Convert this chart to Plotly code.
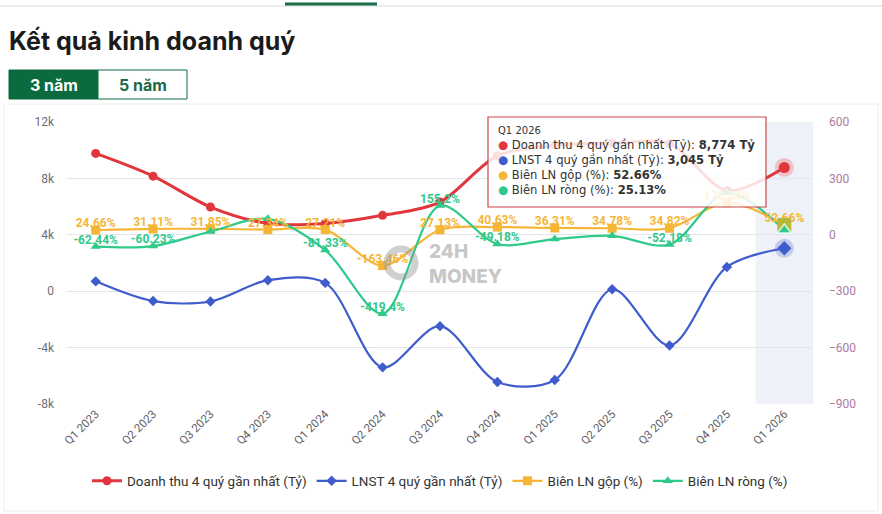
import plotly.graph_objects as go

# ---------------- data ----------------
categories = ["Q1 2023", "Q2 2023", "Q3 2023", "Q4 2023", "Q1 2024", "Q2 2024", "Q3 2024",
              "Q4 2024", "Q1 2025", "Q2 2025", "Q3 2025", "Q4 2025", "Q1 2026"]
revenue = [9770, 8160, 5970, 4810, 4810, 5380, 6320, 9600, 10350, 10500, 10450, 7150, 8774]
lnst = [700, -700, -730, 780, 590, -5400, -2480, -6440, -6300, 140, -3850, 1720, 3045]
gross_margin = [24.66, 31.11, 31.85, 27.34, 27.21, -163.46, 27.13, 40.63, 36.31, 34.78, 34.82, 170.84, 52.66]
net_margin = [-62.44, -60.23, 17.5, 85.0, -81.33, -419.4, 155.2, -49.18, -23.0, -5.3, -52.18, 225.0, 25.13]
net_label_shown = [True, True, False, False, True, True, True, True, False, False, True, False, False]
left_ticks = [-8000, -4000, 0, 4000, 8000, 12000]
left_tick_text = ["-8k", "-4k", "0", "4k", "8k", "12k"]
right_ticks = [-900, -600, -300, 0, 300, 600]
series_names = ["Doanh thu 4 quý gần nhất (Tỷ)", "LNST 4 quý gần nhất (Tỷ)",
                "Biên LN gộp (%)", "Biên LN ròng (%)"]

RED, BLUE, ORANGE, GREEN = "#e2363d", "#3e5ccb", "#f5b637", "#2fc98a"

W, H = 882, 514
L, R, T, B = 67, 813, 122, 404


def px2x(px):
    return (px - L) / (R - L)


def py2y(py):
    return (B - py) / (B - T)


fig = go.Figure()

fig.add_trace(go.Scatter(x=categories, y=revenue, name=series_names[0], mode="lines+markers",
                         line=dict(color=RED, width=3, shape="spline", smoothing=0.9),
                         marker=dict(symbol="circle", size=9, color=RED), yaxis="y"))
fig.add_trace(go.Scatter(x=categories, y=lnst, name=series_names[1], mode="lines+markers",
                         line=dict(color=BLUE, width=2.2, shape="spline", smoothing=0.9),
                         marker=dict(symbol="diamond", size=8, color=BLUE), yaxis="y"))
fig.add_trace(go.Scatter(x=categories, y=gross_margin, name=series_names[2], mode="lines+markers",
                         line=dict(color=ORANGE, width=2.2, shape="spline", smoothing=0.9),
                         marker=dict(symbol="square", size=9, color=ORANGE), yaxis="y2"))
fig.add_trace(go.Scatter(x=categories, y=net_margin, name=series_names[3], mode="lines+markers",
                         line=dict(color=GREEN, width=2.2, shape="spline", smoothing=0.9),
                         marker=dict(symbol="triangle-up", size=9, color=GREEN), yaxis="y2"))

# data labels
fig.add_trace(go.Scatter(x=categories, y=gross_margin, mode="text", showlegend=False, yaxis="y2",
                         text=[f"{v:g}%" for v in gross_margin], textposition="top center",
                         textfont=dict(color=ORANGE, size=12, family="Roboto", weight=700),
                         hoverinfo="skip"))
fig.add_trace(go.Scatter(x=categories, y=net_margin, mode="text", showlegend=False, yaxis="y2",
                         text=[f"{v:g}%" if s else "" for v, s in zip(net_margin, net_label_shown)],
                         textposition="top center",
                         textfont=dict(color=GREEN, size=12, family="Roboto", weight=700),
                         hoverinfo="skip"))

# highlighted last point
last = categories[-1]
fig.add_trace(go.Scatter(x=[last], y=[revenue[-1]], mode="markers", showlegend=False, yaxis="y",
                         marker=dict(size=19, color="rgba(226,54,61,0.25)"), hoverinfo="skip"))
fig.add_trace(go.Scatter(x=[last], y=[revenue[-1]], mode="markers", showlegend=False, yaxis="y",
                         marker=dict(size=11, color=RED), hoverinfo="skip"))
fig.add_trace(go.Scatter(x=[last], y=[lnst[-1]], mode="markers", showlegend=False, yaxis="y",
                         marker=dict(size=19, symbol="circle", color="rgba(62,92,203,0.25)"), hoverinfo="skip"))
fig.add_trace(go.Scatter(x=[last], y=[lnst[-1]], mode="markers", showlegend=False, yaxis="y",
                         marker=dict(size=11, symbol="diamond", color=BLUE), hoverinfo="skip"))
fig.add_trace(go.Scatter(x=[last], y=[gross_margin[-1]], mode="markers", showlegend=False, yaxis="y2",
                         marker=dict(size=14, symbol="square", color="#b8b83a"), hoverinfo="skip"))
fig.add_trace(go.Scatter(x=[last], y=[net_margin[-1]], mode="markers", showlegend=False, yaxis="y2",
                         marker=dict(size=12, symbol="triangle-up", color=GREEN,
                                     line=dict(color="rgba(255,255,255,0.8)", width=1.5)),
                         hoverinfo="skip"))

shapes = [
    # top page line + active tab underline
    dict(type="line", xref="paper", yref="paper", x0=px2x(0), x1=px2x(882), y0=py2y(6), y1=py2y(6),
         line=dict(color="#e4e4e4", width=1.5)),
    dict(type="line", xref="paper", yref="paper", x0=px2x(285), x1=px2x(377), y0=py2y(4), y1=py2y(4),
         line=dict(color="#17704a", width=3)),
    # tabs
    dict(type="rect", xref="paper", yref="paper", x0=px2x(9), x1=px2x(98), y0=py2y(70), y1=py2y(99),
         fillcolor="#0b6b3f", line=dict(color="#0b6b3f", width=1)),
    dict(type="rect", xref="paper", yref="paper", x0=px2x(98), x1=px2x(187), y0=py2y(70), y1=py2y(99),
         fillcolor="white", line=dict(color="#0b6b3f", width=1)),
    # card
    dict(type="rect", xref="paper", yref="paper", x0=px2x(4), x1=px2x(878), y0=py2y(104), y1=py2y(511),
         line=dict(color="#eeeeee", width=1), layer="below"),
    # hover band
    dict(type="rect", xref="x", yref="paper", x0=11.5, x1=12.5, y0=0, y1=1,
         fillcolor="#eef2f8", line=dict(width=0), layer="below"),
    # watermark logo ring
    dict(type="circle", xref="paper", yref="paper", x0=px2x(387), x1=px2x(415), y0=py2y(249), y1=py2y(277),
         line=dict(color="rgba(150,150,150,0.45)", width=7), layer="above"),
    # tooltip box
    dict(type="rect", xref="paper", yref="paper", x0=px2x(488), x1=px2x(766), y0=py2y(117), y1=py2y(207),
         fillcolor="rgba(255,255,255,0.84)", line=dict(color="#c9464c", width=1.2), layer="above"),
]

tooltip = (f"<span style='font-size:10px'>{last}</span><br>"
           f"<span style='color:{RED}'>●</span> {series_names[0]}: <b>{revenue[-1]:,} Tỷ</b><br>"
           f"<span style='color:{BLUE}'>●</span> {series_names[1]}: <b>{lnst[-1]:,} Tỷ</b><br>"
           f"<span style='color:{ORANGE}'>●</span> {series_names[2]}: <b>{gross_margin[-1]:.2f}%</b><br>"
           f"<span style='color:{GREEN}'>●</span> {series_names[3]}: <b>{net_margin[-1]:.2f}%</b>")

annotations = [
    dict(xref="paper", yref="paper", x=px2x(7), y=py2y(41), xanchor="left", yanchor="middle",
         text="Kết quả kinh doanh quý", showarrow=False,
         font=dict(family="Inter", size=25, color="#1b1b1b", weight=700)),
    dict(xref="paper", yref="paper", x=px2x(53.5), y=py2y(85), xanchor="center", yanchor="middle",
         text="3 năm", showarrow=False, font=dict(family="Inter", size=16, color="white", weight=700)),
    dict(xref="paper", yref="paper", x=px2x(142.5), y=py2y(85), xanchor="center", yanchor="middle",
         text="5 năm", showarrow=False, font=dict(family="Inter", size=16, color="#1d6a47", weight=700)),
    dict(xref="paper", yref="paper", x=px2x(427), y=py2y(264), xanchor="left", yanchor="middle",
         text="24H<br>MONEY", showarrow=False, align="left",
         font=dict(family="Inter", size=19, color="rgba(150,150,150,0.55)", weight=800)),
    dict(xref="paper", yref="paper", x=px2x(496), y=py2y(123), xanchor="left", yanchor="top",
         text=tooltip, showarrow=False, align="left",
         font=dict(family="DejaVu Sans", size=11.6, color="#333333")),
]

fig.update_layout(
    width=W, height=H,
    margin=dict(l=L, r=W - R, t=T, b=H - B, pad=0),
    paper_bgcolor="white", plot_bgcolor="white",
    showlegend=True,
    legend=dict(orientation="h", x=0.5, xanchor="center", y=py2y(481), yanchor="middle",
                font=dict(family="Roboto", size=13.5, color="#333333"), itemwidth=30,
                bgcolor="rgba(0,0,0,0)"),
    xaxis=dict(type="category", range=[-0.5, 12.5], showgrid=False, zeroline=False,
               showline=False, ticks="", tickangle=-45,
               tickfont=dict(family="Roboto", size=11.5, color="#5e6068")),
    yaxis=dict(range=[-8000, 12000], tickvals=left_ticks, ticktext=left_tick_text,
               showgrid=True, gridcolor="#e3e5ea", gridwidth=1, zeroline=False, showline=False,
               ticks="", ticklabelstandoff=12,
               tickfont=dict(family="Roboto", size=12, color="#6e7079")),
    yaxis2=dict(range=[-900, 600], tickvals=right_ticks, overlaying="y", side="right",
                showgrid=False, zeroline=False, showline=False, ticks="", ticklabelstandoff=15,
                tickfont=dict(family="Roboto", size=12, color="#ad7aa3")),
    shapes=shapes,
    annotations=annotations,
    hovermode=False,
)

fig.write_html("out.html")
